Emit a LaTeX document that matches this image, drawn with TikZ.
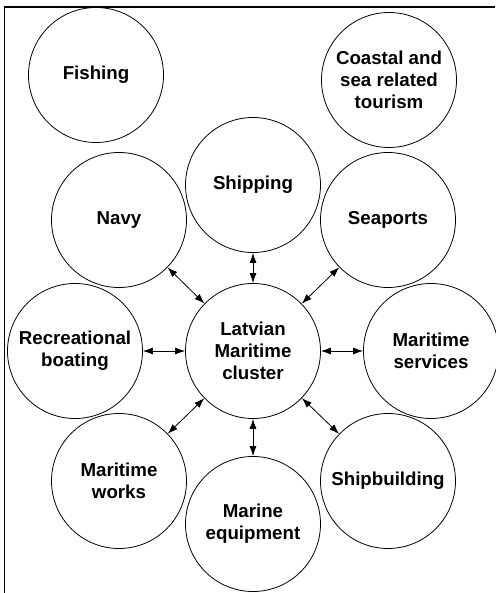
\documentclass[tikz,border=0pt]{standalone}
\usepackage{fontspec}
\setmainfont{Liberation Sans}
\usepackage{tikz}
\usetikzlibrary{shapes,arrows.meta,positioning}
\tikzstyle{sector} = [circle, draw, line width=0.8pt, minimum size=135pt, inner sep=0pt,
    text centered, align=center, font=\bfseries\fontsize{18.7}{21.7}\selectfont]
\tikzstyle{line} = [draw, line width=0.8pt, {Latex[length=10pt,width=7pt]}-{Latex[length=10pt,width=7pt]}]

\begin{document}
\begin{tikzpicture}[x=1pt,y=1pt,on grid]
  \useasboundingbox (-253,-242) rectangle (242,351);
  \draw[line width=1.2pt] (-248.5,-242) |- (242,344);

  \node[sector] (cluster) at (0,0) {Latvian\\Maritime\\cluster};
  \node[sector,above=166pt of cluster] (shipping) {Shipping};
  \node[sector,below=173pt of cluster] (equipment) {Marine\\equipment};
  \node[sector,left=178pt of cluster] (boating) {Recreational\\boating};
  \node[sector,right=178pt of cluster] (services) {Maritime\\services};
  \node[sector,above left=131pt and 134pt of cluster] (navy) {Navy};
  \node[sector,above right=131pt and 135pt of cluster] (seaports) {Seaports};
  \node[sector,below left=130pt and 134pt of cluster] (works) {Maritime\\works};
  \node[sector,below right=130pt and 135pt of cluster] (shipbuilding) {Shipbuilding};
  \node[sector,above left=276pt and 157pt of cluster] (fishing) {Fishing};
  \node[sector,above right=271pt and 136pt of cluster] (tourism) {Coastal and\\sea related\\tourism};

  \begin{scope}[every path/.style=line]
    \path (cluster) -- (shipping);
    \path (cluster) -- (seaports);
    \path (cluster) -- (services);
    \path (cluster) -- (shipbuilding);
    \path (cluster) -- (equipment);
    \path (cluster) -- (works);
    \path (cluster) -- (boating);
    \path (cluster) -- (navy);
  \end{scope}

\end{tikzpicture}
\end{document}
